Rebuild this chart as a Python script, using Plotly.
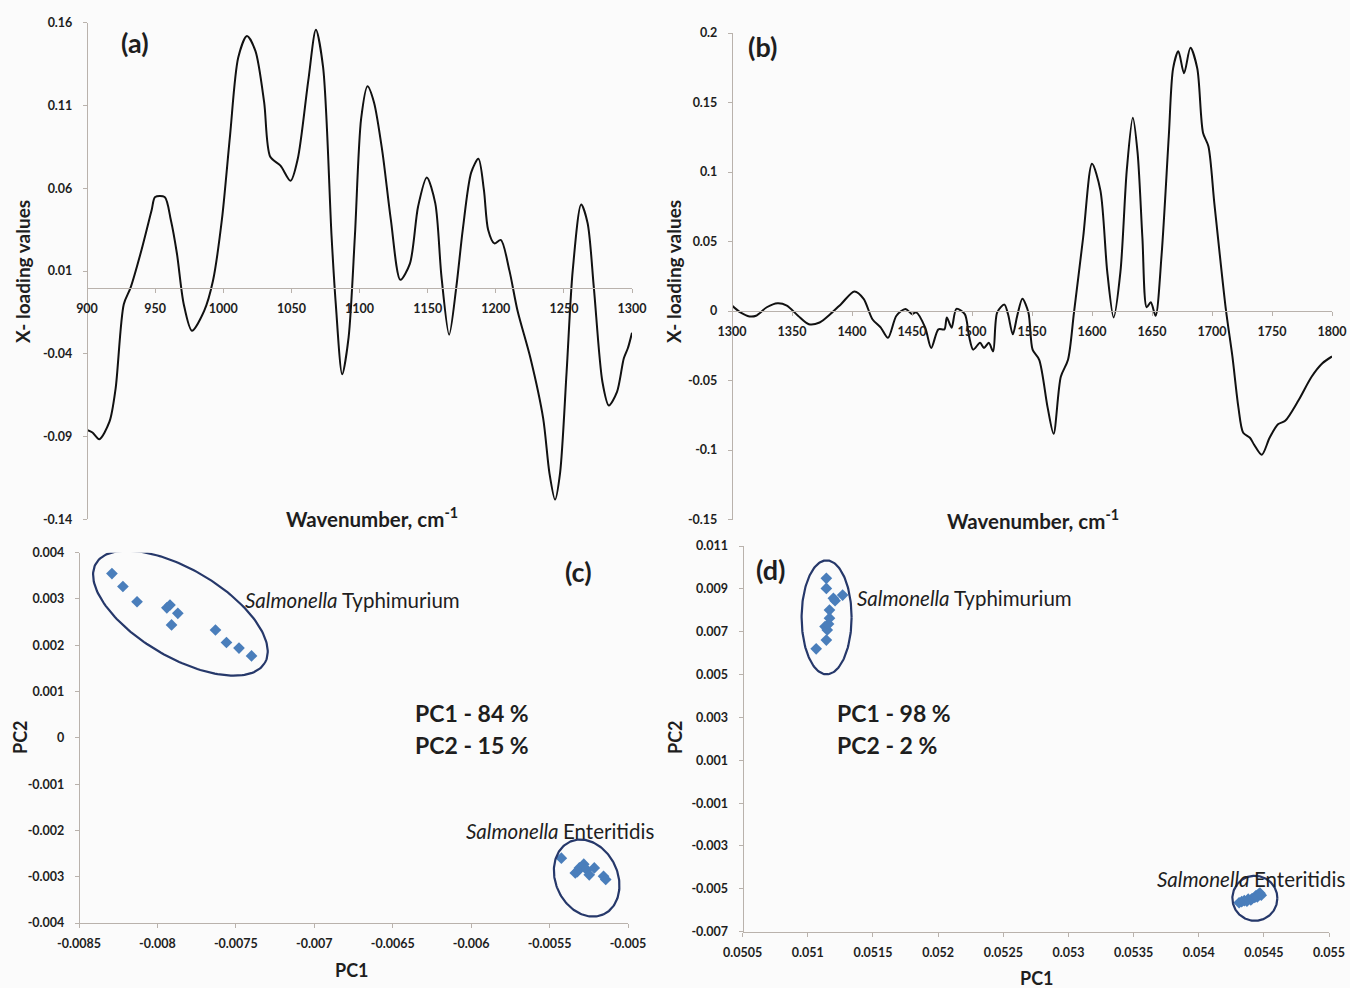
import numpy as np
import plotly.graph_objects as go

# ---------------- data ----------------
# (a) X-loadings, 900-1300 cm-1
wn_a = [900, 904, 909, 916.5, 921, 927, 932, 940, 947.5, 950, 957, 961.5, 966, 971, 977,
        986, 992.5, 999, 1005, 1011, 1017.4, 1023.6, 1030, 1034.5, 1042, 1049.4, 1054.7,
        1062.4, 1068, 1073.3, 1079.5, 1082.6, 1087.3, 1092, 1096.6, 1101.2, 1105.9, 1110.6,
        1116.8, 1123, 1130, 1137, 1143, 1149.4, 1155.6, 1160.2, 1165.8, 1171, 1175.8, 1182,
        1187.3, 1191.3, 1194.4, 1199, 1203.7, 1210, 1216, 1225.5, 1234.8, 1239.4, 1243.5,
        1247.2, 1252, 1256.5, 1262.7, 1267.4, 1272, 1278.3, 1283, 1289, 1294, 1297, 1300]
load_a = [-0.086, -0.0875, -0.0916, -0.081, -0.061, -0.010, 0.0, 0.0227, 0.047, 0.0547, 0.0547,
          0.041, 0.0206, -0.010, -0.026, -0.014, 0.0043, 0.041, 0.092, 0.139, 0.152, 0.143,
          0.112, 0.079, 0.0737, 0.0645, 0.0778, 0.125, 0.1557, 0.133, 0.031, -0.010, -0.0524,
          -0.030, 0.031, 0.102, 0.1216, 0.112, 0.082, 0.041, 0.0047, 0.0145, 0.049, 0.0665,
          0.051, 0.0063, -0.0284, 0.0, 0.035, 0.0696, 0.0778, 0.059, 0.035, 0.0267, 0.0288,
          0.0104, -0.014, -0.0427, -0.079, -0.112, -0.128, -0.112, -0.051, 0.0104, 0.0502,
          0.039, 0.0, -0.057, -0.0712, -0.063, -0.0427, -0.0365, -0.0273]

# (b) X-loadings, 1300-1800 cm-1
wn_b = [1300, 1307, 1314.6, 1320, 1329, 1338, 1345.7, 1355, 1364, 1373, 1382, 1391, 1402,
        1409.7, 1417, 1424, 1430, 1437, 1444.5, 1450, 1453.6, 1461, 1466, 1472, 1477, 1479,
        1483, 1487, 1494, 1497.5, 1501, 1506.7, 1510, 1514, 1517.6, 1521, 1527, 1530, 1534,
        1537.7, 1542, 1547, 1550.5, 1556, 1563, 1568, 1574, 1580, 1585, 1592.6, 1600, 1607,
        1612.7, 1618, 1623.7, 1629, 1634, 1638, 1642, 1645.6, 1649, 1653, 1658, 1664, 1667.6,
        1672, 1676.7, 1682, 1687.7, 1692.5, 1697, 1702, 1711.5, 1717, 1722, 1726, 1731.6,
        1735, 1741.5, 1748, 1755, 1761, 1772, 1783, 1792, 1800]
load_b = [0.0039, -0.001, -0.0039, -0.0034, 0.0027, 0.0056, 0.0039, -0.0034, -0.0095, -0.0083,
          -0.0022, 0.0051, 0.0141, 0.0088, -0.0059, -0.012, -0.0193, -0.0034, 0.0015, -0.0022,
          -0.001, -0.012, -0.0266, -0.0132, -0.0132, -0.0046, -0.012, 0.0015, -0.0022, -0.018,
          -0.0278, -0.0229, -0.0266, -0.0229, -0.029, -0.001, 0.0046, -0.0022, -0.0168, -0.0034,
          0.0088, -0.001, -0.0278, -0.0351, -0.0693, -0.0883, -0.0473, -0.0351, -0.001, 0.0527,
          0.1059, 0.0868, 0.0283, -0.0046, 0.0283, 0.1015, 0.139, 0.1137, 0.0527, 0.0027,
          0.0063, -0.0034, 0.0405, 0.1259, 0.1746, 0.1868, 0.171, 0.1893, 0.1746, 0.1283,
          0.1185, 0.0771, 0.0015, -0.0327, -0.0693, -0.0876, -0.0912, -0.096, -0.1034, -0.0912,
          -0.0815, -0.079, -0.0644, -0.0473, -0.0376, -0.0327]

# (c) PCA scores, 900-1300 cm-1 region
c_typh_pc1 = [-0.00829, -0.00822, -0.00813, -0.00794, -0.00792, -0.00787, -0.00791,
              -0.00763, -0.00756, -0.00748, -0.00740]
c_typh_pc2 = [0.00355, 0.00327, 0.00294, 0.00281, 0.00287, 0.00269, 0.00244,
              0.00233, 0.00206, 0.00194, 0.00177]
c_ent_pc1 = [-0.005425, -0.005336, -0.005323, -0.00531, -0.005282, -0.005263, -0.005247,
             -0.005215, -0.005156, -0.005142]
c_ent_pc2 = [-0.00260, -0.00292, -0.00289, -0.00281, -0.00273, -0.00285, -0.00296,
             -0.00281, -0.00299, -0.00306]

# (d) PCA scores, 1300-1800 cm-1 region
d_typh_pc1 = [0.051142, 0.051142, 0.051209, 0.051196, 0.051267, 0.051166, 0.051166,
              0.051132, 0.051149, 0.051142, 0.051064, 0.051159]
d_typh_pc2 = [0.00949, 0.00902, 0.00845, 0.00856, 0.00871, 0.00801, 0.00763,
              0.00724, 0.00708, 0.00661, 0.00620, 0.00736]
d_ent_pc1 = [0.05431, 0.05433, 0.05435, 0.05437, 0.05438, 0.05440, 0.05441, 0.05443,
             0.05444, 0.05446, 0.05447, 0.05445, 0.05448]
d_ent_pc2 = [-0.00565, -0.00560, -0.00555, -0.00558, -0.00548, -0.00552, -0.00545,
             -0.00540, -0.00532, -0.00525, -0.00520, -0.00538, -0.00530]

# tick values
ticks_a_x = [900, 950, 1000, 1050, 1100, 1150, 1200, 1250, 1300]
ticks_a_y = [0.16, 0.11, 0.06, 0.01, -0.04, -0.09, -0.14]
ticks_b_x = [1300, 1350, 1400, 1450, 1500, 1550, 1600, 1650, 1700, 1750, 1800]
ticks_b_y = [0.2, 0.15, 0.1, 0.05, 0, -0.05, -0.1, -0.15]
ticks_c_x = [-0.0085, -0.008, -0.0075, -0.007, -0.0065, -0.006, -0.0055, -0.005]
ticks_c_y = [0.004, 0.003, 0.002, 0.001, 0, -0.001, -0.002, -0.003, -0.004]
ticks_d_x = [0.0505, 0.051, 0.0515, 0.052, 0.0525, 0.053, 0.0535, 0.054, 0.0545, 0.055]
ticks_d_y = [0.011, 0.009, 0.007, 0.005, 0.003, 0.001, -0.001, -0.003, -0.005, -0.007]

# ---------------- layout helpers ----------------
W, H = 1350, 988
FONT = "Lato"
AXIS_COL = "#b9b2ac"
TXT = "#1e1e1e"
BLUE = "#4a7ebb"
NAVY = "#26386a"


def fx(px):
    return px / W


def fy(py):
    return 1 - py / H


def fmt(v):
    s = ("%.4f" % v).rstrip("0").rstrip(".")
    return "0" if s in ("-0", "0") else s


# plot areas in pixels: (left, right, top, bottom)
box = {
    "a": (87, 632, 22.7, 519.4),
    "b": (732, 1332, 33, 519.5),
    "c": (79, 628, 552.7, 923),
    "d": (742.7, 1329, 546, 931.7),
}
rng = {
    "a": ([900, 1300], [-0.14, 0.16]),
    "b": ([1300, 1800], [-0.15, 0.2]),
    "c": ([-0.0085, -0.005], [-0.004, 0.004]),
    "d": ([0.0505, 0.055], [-0.007, 0.011]),
}


def scale(k):
    l, r, t, b = box[k]
    (x0, x1), (y0, y1) = rng[k]
    return (r - l) / (x1 - x0), (b - t) / (y1 - y0)


def ellipse(k, cx, cy, a_px, b_px, ang_deg):
    kx, ky = scale(k)
    t = np.linspace(0, 2 * np.pi, 181)
    th = np.radians(ang_deg)
    dx = a_px * np.cos(t) * np.cos(th) - b_px * np.sin(t) * np.sin(th)
    dy = a_px * np.cos(t) * np.sin(th) + b_px * np.sin(t) * np.cos(th)
    return cx + dx / kx, cy - dy / ky


fig = go.Figure()

# loading curves
fig.add_trace(go.Scatter(x=wn_a, y=load_a, mode="lines", xaxis="x", yaxis="y",
                         line=dict(color="#111111", width=2, shape="spline", smoothing=0.8)))
fig.add_trace(go.Scatter(x=wn_b, y=load_b, mode="lines", xaxis="x2", yaxis="y2",
                         line=dict(color="#111111", width=2, shape="spline", smoothing=0.8)))

# score plots
marker = dict(symbol="diamond", size=9, color=BLUE)
fig.add_trace(go.Scatter(x=c_typh_pc1, y=c_typh_pc2, mode="markers", xaxis="x3", yaxis="y3", marker=marker))
fig.add_trace(go.Scatter(x=c_ent_pc1, y=c_ent_pc2, mode="markers", xaxis="x3", yaxis="y3", marker=marker))
fig.add_trace(go.Scatter(x=d_typh_pc1, y=d_typh_pc2, mode="markers", xaxis="x4", yaxis="y4", marker=marker))
fig.add_trace(go.Scatter(x=d_ent_pc1, y=d_ent_pc2, mode="markers", xaxis="x4", yaxis="y4", marker=marker))

# cluster outlines
for k, ax, cx, cy, a_px, b_px, ang in [
    ("c", "3", -0.0078535, 0.002694, 98, 44, 30.5),
    ("c", "3", -0.0052635, -0.00303, 40, 31, 65),
    ("d", "4", 0.051144, 0.00767, 25, 57, 0),
    ("d", "4", 0.054431, -0.00544, 22.5, 22.5, 0),
]:
    ex, ey = ellipse(k, cx, cy, a_px, b_px, ang)
    fig.add_trace(go.Scatter(x=ex, y=ey, mode="lines", xaxis="x" + ax, yaxis="y" + ax,
                             line=dict(color=NAVY, width=2.2)))

tickfont = dict(family=FONT, size=12.5, color=TXT, weight="bold")


def xaxis(k, ticks, zero_cross):
    l, r, t, b = box[k]
    (x0, x1), (y0, y1) = rng[k]
    d = dict(domain=[fx(l), fx(r)], range=[x0, x1], tickvals=ticks,
             ticktext=[fmt(v) for v in ticks], showgrid=False, zeroline=False,
             showline=True, linecolor=AXIS_COL, linewidth=1.3, ticks="outside",
             ticklen=4, tickcolor=AXIS_COL, tickfont=tickfont, ticklabelstandoff=5,
             automargin=False)
    if zero_cross:
        ky = (b - t) / (y1 - y0)
        zero_px = t + y1 * ky
        d.update(anchor="free", position=fy(zero_px))
    return d


def yaxis(k, ticks):
    l, r, t, b = box[k]
    (x0, x1), (y0, y1) = rng[k]
    return dict(domain=[fy(b), fy(t)], range=[y0, y1], tickvals=ticks,
                ticktext=[fmt(v) for v in ticks], showgrid=False, zeroline=False,
                showline=True, linecolor=AXIS_COL, linewidth=1.3, ticks="outside",
                ticklen=4, tickcolor=AXIS_COL, tickfont=tickfont, ticklabelstandoff=8,
                anchor="free", position=fx(l), automargin=False)


layout = dict(
    width=W, height=H, margin=dict(l=0, r=0, t=0, b=0, autoexpand=False), showlegend=False,
    paper_bgcolor="#fbfbfb", plot_bgcolor="#fbfbfb",
    xaxis=xaxis("a", ticks_a_x, True), yaxis=yaxis("a", ticks_a_y),
    xaxis2=xaxis("b", ticks_b_x, True), yaxis2=yaxis("b", ticks_b_y),
    xaxis3=xaxis("c", ticks_c_x, False), yaxis3=yaxis("c", ticks_c_y),
    xaxis4=xaxis("d", ticks_d_x, False), yaxis4=yaxis("d", ticks_d_y),
)
layout["xaxis3"]["anchor"] = "y3"
layout["xaxis4"]["anchor"] = "y4"
fig.update_layout(**layout)


def note(text, px, py, size, xanchor="center", angle=0, weight="normal", style="normal"):
    fig.add_annotation(text=text, x=fx(px), y=fy(py), xref="paper", yref="paper",
                       showarrow=False, xanchor=xanchor, yanchor="middle", textangle=angle,
                       font=dict(family=FONT, size=size, color=TXT, weight=weight, style=style))


# panel letters
note("(a)", 135, 42, 27, weight="bold")
note("(b)", 762, 46, 27, weight="bold")
note("(c)", 578, 571, 27, weight="bold")
note("(d)", 770, 569, 27, weight="bold")

# axis titles
note("X- loading values", 23, 272, 19, angle=-90, weight="bold")
note("X- loading values", 674, 272, 19, angle=-90, weight="bold")
note("Wavenumber, cm<sup>-1</sup>", 372, 517, 20.5, weight="bold")
note("Wavenumber, cm<sup>-1</sup>", 1033, 519, 20.5, weight="bold")
note("PC2", 20, 737, 18, angle=-90, weight="bold")
note("PC1", 352, 970, 18, weight="bold")
note("PC2", 675, 737, 18, angle=-90, weight="bold")
note("PC1", 1037, 978, 18, weight="bold")

# cluster labels: italic genus followed by upright serovar
for gx, py, serovar in [(243, 600, "Typhimurium"), (464, 831, "Enteritidis"),
                        (855, 598, "Typhimurium"), (1155, 879, "Enteritidis")]:
    note("Salmonella", gx, py, 20.5, xanchor="left", style="italic")
    note(serovar, gx + 97, py, 20.5, xanchor="left")

# explained variance
note("PC1 - 84 %", 413, 713, 23, xanchor="left", weight="bold")
note("PC2 - 15 %", 413, 745, 23, xanchor="left", weight="bold")
note("PC1 - 98 %", 835, 713, 23, xanchor="left", weight="bold")
note("PC2 - 2 %", 835, 745, 23, xanchor="left", weight="bold")

fig.write_html("out.html")
